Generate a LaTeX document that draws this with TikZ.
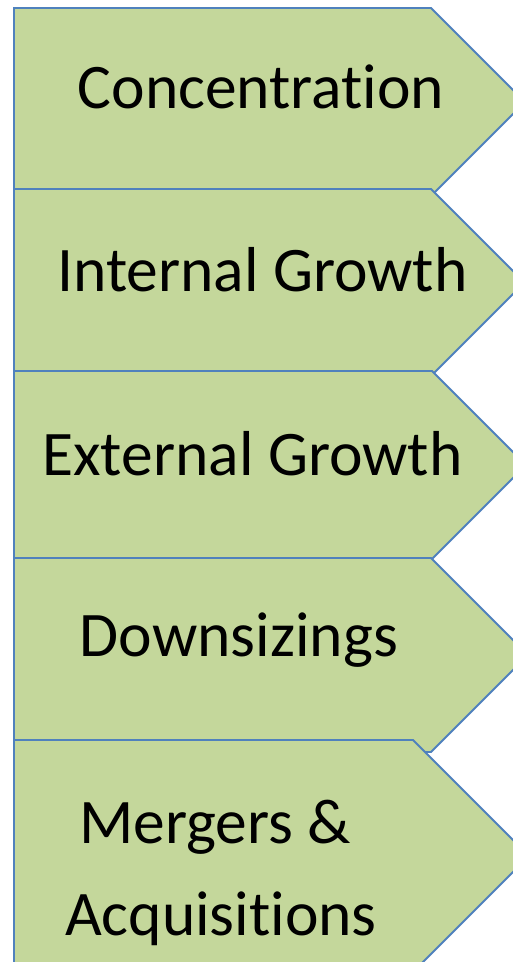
\documentclass[tikz,border=0pt]{standalone}
\usepackage{fontspec}
\setmainfont{Carlito}[Ligatures={NoCommon}, RawFeature={-liga}]
\definecolor{boxfill}{HTML}{C4D79B}
\definecolor{boxline}{HTML}{4F81BD}
\tikzset{
  arrowbox/.style={fill=boxfill, draw=boxline, line width=1.8pt, line join=miter},
  lbl/.style={anchor=base, inner sep=0pt, font=\fontsize{63.5}{76}\selectfont, text=black}
}
\newcommand{\homeplate}[3]{% top, bottom, corner x
  \pgfmathsetmacro{\hh}{(#2-#1)/2}
  \pgfmathsetmacro{\tipx}{#3+\hh}
  \pgfmathsetmacro{\midy}{(#1+#2)/2}
  \path[arrowbox] (14,#1) -- (#3,#1) -- (\tipx,\midy) -- (#3,#2) -- (14,#2) -- cycle;
}
\begin{document}
\begin{tikzpicture}[x=1pt,y=-1pt]
\useasboundingbox (0,0) rectangle (513,962);
\fill[white] (0,0) rectangle (513,962);
\clip (0,0) rectangle (513,962);
\homeplate{8}{196}{431}
\homeplate{189}{376}{431}
\homeplate{371}{559}{432}
\homeplate{558}{752}{431}
\homeplate{740}{972}{413}
\node[lbl] (conc) at (261,108) {Concentration};
\node[lbl] (intg) at (262.5,291) {Internal Growth};
\node[lbl] (extg) at (252.5,475) {External Growth};
\node[lbl] (down) at (239,656) {Downsizings};
\node[lbl] (merg) at (215,843) {Mergers \&};
\node[lbl] (acqu) at (221,935) {Acquisitions};
\end{tikzpicture}
\end{document}
